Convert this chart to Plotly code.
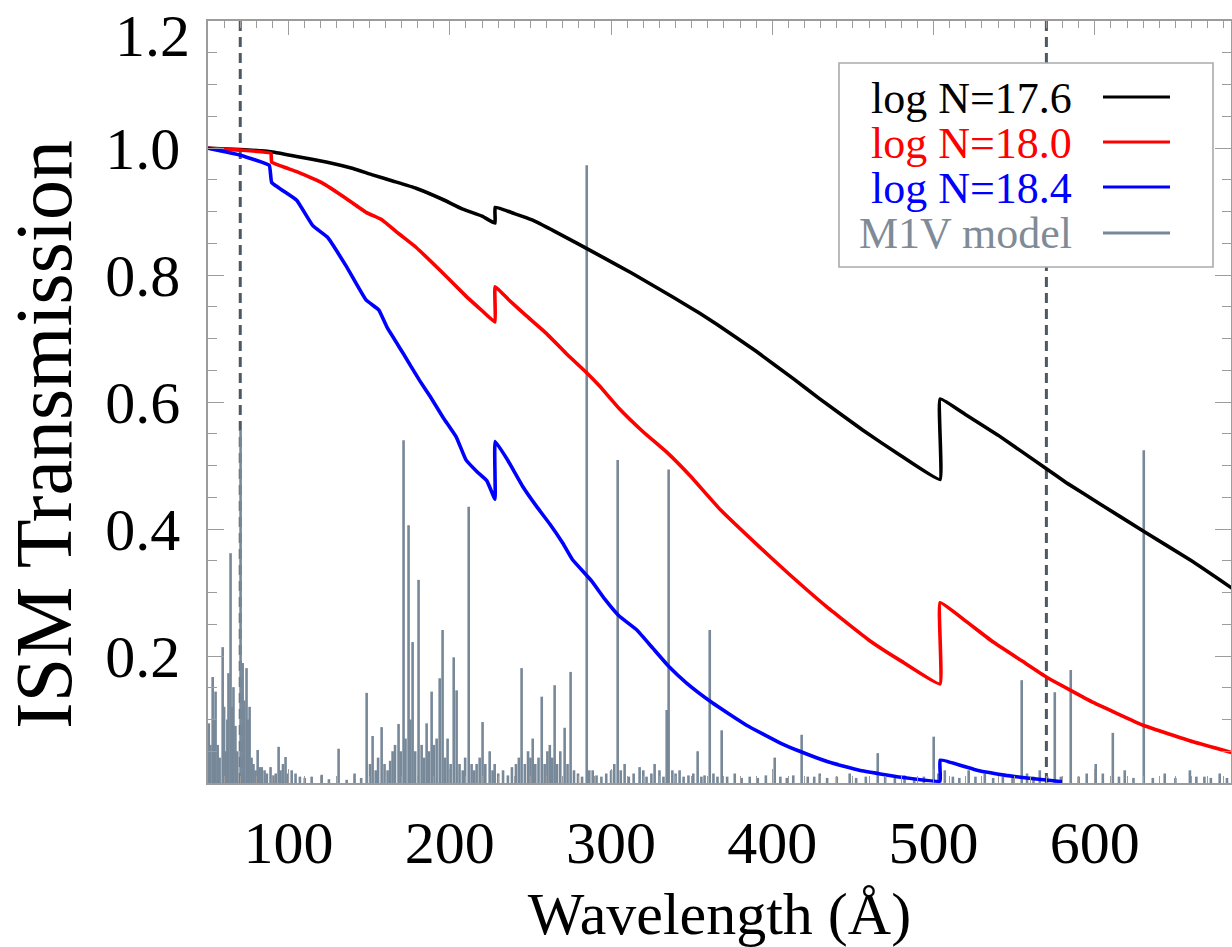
import plotly.graph_objects as go

# ---------------- data ----------------
wl_176 = [50, 70, 90, 105, 124, 140, 152, 165, 179, 195, 208, 220, 228, 228.1, 240, 251, 265, 279,
          295, 313, 338, 355, 366, 390, 413, 429, 456, 480, 504, 504.1, 520, 540, 570, 583, 603,
          630, 660, 685]
tr_176 = [1.000, 0.998, 0.994, 0.987, 0.978, 0.968, 0.958, 0.948, 0.937, 0.920, 0.904, 0.893, 0.882,
          0.907, 0.897, 0.887, 0.869, 0.850, 0.828, 0.803, 0.766, 0.740, 0.722, 0.680, 0.637, 0.606,
          0.556, 0.515, 0.478, 0.605, 0.580, 0.548, 0.495, 0.472, 0.440, 0.397, 0.350, 0.307]

wl_180 = [50, 70, 89, 89.5, 105, 121, 135, 148, 158, 168, 179, 195, 210, 220, 228, 228.1, 237, 247,
          260, 272, 285, 293, 305, 320, 335, 349, 368, 392, 410, 434, 460, 480, 504, 504.1, 520, 537,
          555, 570, 585, 599, 630, 661, 685]
tr_180 = [1.000, 0.997, 0.992, 0.978, 0.963, 0.945, 0.922, 0.899, 0.887, 0.866, 0.844, 0.805, 0.767,
          0.744, 0.726, 0.782, 0.760, 0.737, 0.708, 0.677, 0.646, 0.625, 0.590, 0.553, 0.520, 0.484,
          0.430, 0.372, 0.330, 0.277, 0.225, 0.192, 0.156, 0.284, 0.255, 0.222, 0.192, 0.167, 0.146,
          0.127, 0.091, 0.065, 0.048]

wl_184 = [50, 70, 88, 89.5, 105, 115, 124, 136, 148, 156, 161, 171, 181, 188, 196, 204, 210, 217,
          223, 228, 228.1, 236, 245, 254, 262, 270, 276, 288, 296, 305, 316, 326, 336, 347, 363, 384,
          405, 417, 435, 454, 480, 504, 504.1, 527, 545, 558, 580]
tr_184 = [1.000, 0.989, 0.973, 0.946, 0.918, 0.878, 0.860, 0.813, 0.761, 0.745, 0.718, 0.677, 0.635,
          0.608, 0.575, 0.545, 0.509, 0.490, 0.476, 0.447, 0.538, 0.508, 0.468, 0.435, 0.408, 0.378,
          0.352, 0.318, 0.290, 0.263, 0.241, 0.212, 0.183, 0.157, 0.126, 0.091, 0.063, 0.050, 0.033,
          0.020, 0.009, 0.003, 0.036, 0.020, 0.012, 0.008, 0.002]

m1v_wl = [50.5, 51.5, 52.9, 54.0, 54.7, 56.0, 57.2, 59.1, 60.0, 60.9, 62.0, 62.7, 64.0, 65.0, 65.8,
          67.0, 68.2, 70.2, 71.5, 72.5, 73.9, 74.8, 75.8, 77.0, 78.2, 79.5, 80.8, 82.0, 83.3, 85.1,
          86.5, 88.8, 90.5, 92.0, 93.8, 95.0, 96.5, 98.1, 99.5, 101.9, 104.3, 107.0, 110.0, 114.3,
          120.5, 125.0, 131.0, 136.0, 140.9, 145.0, 148.4, 150.5, 152.1, 154.0, 155.5, 157.7, 159.5,
          161.4, 163.0, 164.5, 166.0, 168.2, 169.5, 171.3, 172.5, 174.4, 175.5, 176.9, 178.5, 180.6,
          182.5, 184.0, 185.6, 187.0, 188.7, 190.0, 191.8, 193.7, 195.5, 197.0, 198.6, 200.5, 202.4,
          204.2, 206.0, 208.0, 209.5, 211.7, 213.5, 215.0, 216.6, 218.5, 220.3, 222.0, 224.7, 226.5,
          227.8, 230.0, 233.0, 236.0, 238.5, 241.0, 242.8, 244.5, 246.5, 248.5, 250.0, 251.4, 253.0,
          255.0, 257.0, 258.8, 260.5, 262.0, 263.5, 265.0, 266.5, 268.5, 271.2, 273.0, 274.9, 277.0,
          279.5, 282.0, 284.9, 286.5, 288.6, 291.0, 294.0, 297.0, 300.0, 302.0, 304.1, 306.0, 308.4,
          311.0, 314.0, 317.7, 320.0, 322.0, 325.0, 327.0, 330.0, 332.5, 334.5, 335.7, 338.0, 340.0,
          342.5, 345.0, 348.0, 351.0, 353.7, 356.0, 358.0, 361.2, 363.5, 366.0, 368.6, 372.0, 376.7,
          381.0, 386.0, 391.0, 396.0, 401.5, 405.0, 409.0, 413.0, 418.2, 422.0, 426.0, 429.4, 434.0,
          440.0, 448.0, 452.0, 458.0, 465.4, 470.0, 476.0, 482.0, 488.0, 494.0, 500.1, 503.0, 507.0,
          512.0, 516.0, 521.8, 526.0, 531.8, 537.0, 543.0, 549.0, 554.7, 558.0, 562.0, 565.9, 570.5,
          575.2, 579.0, 585.1, 590.0, 595.0, 600.6, 605.0, 611.2, 615.0, 618.6, 624.0, 630.4, 636.0,
          643.4, 650.0, 659.0, 663.0, 668.0, 672.0, 677.5, 682.0]
m1v_h = [0.094, 0.06, 0.167, 0.10, 0.144, 0.06, 0.04, 0.214, 0.12, 0.05, 0.10, 0.173, 0.362, 0.12, 0.151,
         0.09, 0.05, 0.556, 0.189, 0.13, 0.181, 0.10, 0.120, 0.040, 0.03, 0.02, 0.052, 0.025, 0.025, 0.020,
         0.015, 0.025, 0.012, 0.015, 0.057, 0.02, 0.03, 0.041, 0.015, 0.020, 0.015, 0.01, 0.008, 0.010,
         0.013, 0.006, 0.054, 0.005, 0.015, 0.008, 0.142, 0.03, 0.074, 0.02, 0.04, 0.088, 0.03,
         0.02, 0.035, 0.050, 0.06, 0.093, 0.05, 0.540, 0.07, 0.406, 0.10, 0.222, 0.05, 0.320,
         0.060, 0.04, 0.094, 0.05, 0.144, 0.06, 0.070, 0.165, 0.241, 0.04, 0.070, 0.03, 0.198,
         0.146, 0.03, 0.02, 0.04, 0.435, 0.03, 0.02, 0.030, 0.04, 0.096, 0.03, 0.050, 0.02,
         0.030, 0.015, 0.02, 0.012, 0.025, 0.03, 0.04, 0.181, 0.03, 0.05, 0.04, 0.070, 0.03,
         0.04, 0.136, 0.03, 0.05, 0.060, 0.04, 0.154, 0.03, 0.05, 0.087, 0.03, 0.175, 0.02,
         0.015, 0.01, 0.973, 0.02, 0.020, 0.012, 0.01, 0.015, 0.02, 0.03, 0.509, 0.02, 0.030,
         0.01, 0.015, 0.025, 0.02, 0.01, 0.015, 0.030, 0.02, 0.01, 0.115, 0.494, 0.02, 0.015,
         0.020, 0.01, 0.012, 0.015, 0.050, 0.01, 0.012, 0.241, 0.015, 0.01, 0.083, 0.01, 0.015,
         0.008, 0.01, 0.008, 0.012, 0.040, 0.01, 0.008, 0.012, 0.076, 0.01, 0.01, 0.015, 0.008,
         0.01, 0.015, 0.008, 0.01, 0.047, 0.01, 0.008, 0.012, 0.008, 0.01, 0.073, 0.015, 0.020,
         0.01, 0.008, 0.020, 0.01, 0.015, 0.008, 0.01, 0.008, 0.162, 0.015, 0.01, 0.020, 0.01,
         0.143, 0.01, 0.178, 0.01, 0.015, 0.030, 0.015, 0.079, 0.01, 0.020, 0.008, 0.524, 0.008,
         0.015, 0.008, 0.020, 0.01, 0.010, 0.008, 0.015, 0.008]

band_edges = [70, 570]

legend_labels = ["log N=17.6", "log N=18.0", "log N=18.4", "M1V model"]
x_title = "Wavelength (Å)"
y_title = "ISM Transmission"
y_ticks = [0.2, 0.4, 0.6, 0.8, 1.0, 1.2]
y_ticktext = ["0.2", "0.4", "0.6", "0.8", "1.0", ""]   # top label drawn below so it is not clipped
y_top_label = "1.2"

# ---------------- styling ----------------
SERIF = "Liberation Serif, Times New Roman, serif"
C_BLACK, C_RED, C_BLUE, C_GRAY = "#000000", "#ff0000", "#0000ff", "#778899"
AXIS_C = "#9c9c9c"

# stick spectrum as one trace with gaps
sx, sy = [], []
for w, h in zip(m1v_wl, m1v_h):
    sx += [w, w, None]
    sy += [0, h, None]

fig = go.Figure()
fig.add_trace(go.Scatter(x=sx, y=sy, mode="lines", line=dict(color=C_GRAY, width=2.6),
                         name=legend_labels[3], showlegend=False, hoverinfo="skip"))
for wl, tr, col, lab in [(wl_176, tr_176, C_BLACK, legend_labels[0]),
                         (wl_180, tr_180, C_RED, legend_labels[1]),
                         (wl_184, tr_184, C_BLUE, legend_labels[2])]:
    fig.add_trace(go.Scatter(x=wl, y=tr, mode="lines",
                             line=dict(color=col, width=3.6, shape="spline", smoothing=0.3),
                             name=lab, showlegend=False))

# dashed band edges
for e in band_edges:
    fig.add_shape(type="line", xref="x", yref="paper", x0=e, x1=e, y0=0, y1=1,
                  line=dict(color="#4c5864", width=3, dash="10px,6px"), layer="below")

# ---- custom legend (box, coloured texts, line samples) ----
W_PLOT, H_PLOT, L, T = 1023.0, 762.0, 208.0, 21.0
def px(xp): return (xp - L) / W_PLOT
def py(yp): return (T + H_PLOT - yp) / H_PLOT

fig.add_shape(type="rect", xref="paper", yref="paper", x0=px(839), x1=px(1213), y0=py(267), y1=py(63),
              line=dict(color="#aaaaaa", width=1.6), fillcolor="white", layer="above")
rows_y = [97, 142, 187, 233]
txt_cols = [C_BLACK, C_RED, C_BLUE, "#7f8b96"]
line_cols = [C_BLACK, C_RED, C_BLUE, C_GRAY]
for lab, tc, lc, ry in zip(legend_labels, txt_cols, line_cols, rows_y):
    fig.add_annotation(x=px(1074), y=py(ry + 1), xref="paper", yref="paper", text=lab,
                       showarrow=False, xanchor="right", yanchor="middle",
                       font=dict(family=SERIF, size=44, color=tc))
    fig.add_shape(type="line", xref="paper", yref="paper", x0=px(1103), x1=px(1170),
                  y0=py(ry), y1=py(ry), line=dict(color=lc, width=3), layer="above")

# y-axis title (placed as in the reference, slightly below the axis centre)
fig.add_annotation(x=px(44), y=py(435), xref="paper", yref="paper", text=y_title, textangle=-90,
                   showarrow=False, xanchor="center", yanchor="middle",
                   font=dict(family=SERIF, size=80, color="black"))

# top y tick label, nudged down as in the reference
fig.add_annotation(x=px(192), y=y_ticks[-1], xref="paper", yref="y", text=y_top_label,
                   showarrow=False, xanchor="right", yanchor="middle", yshift=-15,
                   font=dict(family=SERIF, size=60, color="black"))

axis_common = dict(showline=True, linecolor=AXIS_C, linewidth=1.6, mirror="ticks",
                   ticks="inside", tickcolor=AXIS_C, tickwidth=1.4, showgrid=False,
                   zeroline=False, automargin=False,
                   tickfont=dict(family=SERIF, size=60, color="black"))

fig.update_layout(
    width=1232, height=947,
    margin=dict(l=208, r=1, t=21, b=164),
    paper_bgcolor="white", plot_bgcolor="white",
    showlegend=False,
    xaxis=dict(range=[50, 684.5], tick0=0, dtick=100, ticklen=14,
               minor=dict(dtick=10, ticklen=7, tickcolor=AXIS_C, ticks="inside"),
               title=dict(text=x_title, font=dict(family=SERIF, size=60, color="black"), standoff=18),
               ticklabelstandoff=6,
               **axis_common),
    yaxis=dict(range=[0, 1.2004], tickmode="array", tickvals=y_ticks, ticktext=y_ticktext, ticklen=16,
               minor=dict(tickmode="linear", tick0=0, dtick=0.05, ticklen=9, tickcolor=AXIS_C, ticks="inside"),
               ticklabelstandoff=14,
               **axis_common),
)

fig.write_html("out.html")
